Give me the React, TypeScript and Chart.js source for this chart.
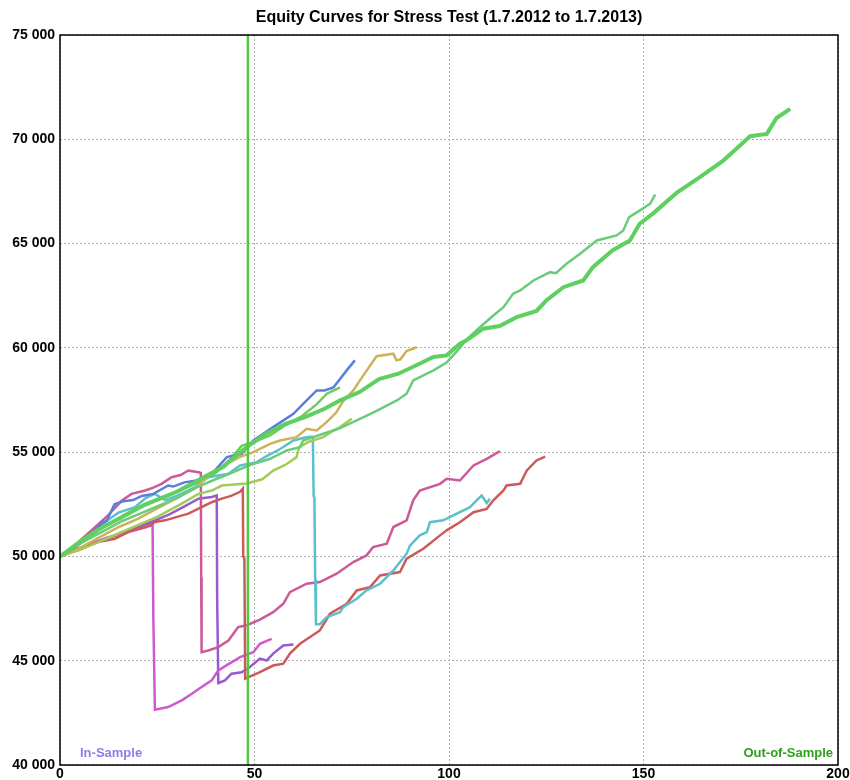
import React, { useEffect, useRef } from "react";
import { Chart, registerables } from "chart.js";

Chart.register(...registerables);

const TITLE = "Equity Curves for Stress Test (1.7.2012 to 1.7.2013)";
const X_TICKS = [0, 50, 100, 150, 200];
const Y_TICKS = [40000, 45000, 50000, 55000, 60000, 65000, 70000, 75000];

// Split between in-sample / out-of-sample
const splitX = [48.3, 48.3];
const splitY = [40000, 75000];

// Thick green (main)
const mainX = [0, 3, 6, 10, 14, 18, 22, 26, 30, 34, 38, 42, 45, 48.8, 53, 58, 63, 68, 72, 77, 82, 87, 92, 96, 99.4, 102.8, 104.5, 108.8, 113, 117.4, 122.5, 125, 129.4, 134.5, 137, 142, 146.5, 149, 152.5, 158.5, 164.5, 170.5, 174.8, 177.4, 181.7, 184.2, 187.7];
const mainY = [50000, 50400, 50800, 51300, 51700, 52100, 52500, 52800, 53100, 53500, 53900, 54300, 54800, 55350, 55880, 56360, 56680, 57080, 57480, 57880, 58500, 58760, 59200, 59560, 59640, 60200, 60360, 60920, 61050, 61470, 61770, 62270, 62910, 63230, 63870, 64670, 65150, 65950, 66450, 67430, 68190, 68980, 69700, 70150, 70260, 71020, 71460];

// Thin green
const greenX = [0, 4, 8, 12, 16, 20, 25, 30, 35, 40, 44, 48.8, 54, 58.3, 61.7, 62.5, 67.7, 72, 76, 80.5, 86.6, 89.1, 90.8, 96, 99.4, 102.8, 104.5, 108, 111.4, 114, 116.5, 118.3, 121.7, 126, 127.5, 130.2, 133.7, 138, 143.1, 144.8, 146.3, 149.1, 151.7, 153];
const greenY = [50000, 50500, 50900, 51300, 51700, 52000, 52400, 52800, 53300, 53700, 54000, 54380, 54680, 55080, 55240, 55560, 55880, 56150, 56500, 56900, 57480, 57800, 58440, 58920, 59300, 60000, 60400, 61000, 61550, 61950, 62600, 62750, 63230, 63630, 63580, 64030, 64510, 65150, 65390, 65630, 66270, 66590, 66910, 67350];

// Blue
const blueX = [0, 2.6, 5, 7.7, 10.7, 12, 14, 16.3, 18.8, 21, 24, 27.8, 29.1, 32, 35.1, 39, 42.9, 46.7, 49.7, 54.8, 60, 63.4, 66, 68, 70.3, 73.7, 75.8];
const blueY = [50000, 50290, 50600, 51000, 51600, 51700, 52500, 52650, 52700, 52900, 53000, 53400, 53350, 53550, 53640, 53960, 54760, 54920, 55560, 56200, 56840, 57480, 57960, 57960, 58100, 58920, 59400];

// Tan
const tanX = [0, 5, 10, 15, 20, 25, 30, 35, 37.7, 42.9, 46, 49.7, 54, 56.6, 60.8, 63.4, 66, 68.6, 71, 72.8, 75.4, 77.1, 79.7, 81.4, 85.7, 86.5, 87.5, 89.1, 91.7];
const tanY = [50000, 50400, 50900, 51400, 51800, 52300, 52800, 53300, 53800, 54440, 54750, 55000, 55400, 55560, 55720, 56120, 56040, 56450, 56900, 57450, 57960, 58440, 59150, 59600, 59720, 59400, 59450, 59850, 60030];

// Yellow-green
const limeX = [0, 5, 10, 15, 20, 25, 31.3, 35.6, 39, 41.6, 48, 52, 54.8, 58, 60.8, 61.5, 64, 67.7, 70, 72, 75];
const limeY = [50000, 50300, 50700, 51100, 51500, 51900, 52530, 53000, 53160, 53400, 53500, 53700, 54120, 54400, 54760, 55240, 55500, 55720, 56000, 56200, 56600];

// Second green (short)
const green2X = [0, 4, 8, 12, 16, 20, 25, 30, 35, 40, 44, 46.7, 50, 54, 58, 62, 66, 68.6, 72];
const green2Y = [50000, 50600, 51100, 51500, 51900, 52300, 52700, 53100, 53500, 54000, 54700, 55300, 55500, 55800, 56300, 56700, 57300, 57800, 58100];

// Cyan
const cyanX = [0, 4, 8, 12, 15, 19.3, 22, 24.4, 27, 30, 34.7, 38.1, 43.3, 46.3, 50.6, 53, 56.6, 60, 63, 64.8, 65.0, 65.2, 65.4, 65.6, 65.8, 66.8, 68.6, 72, 72.8, 76.3, 78.8, 82.3, 85.7, 89.1, 90, 92.5, 94.3, 95.1, 98.5, 101.1, 105.4, 107.1, 108.4, 109.7, 110.5];
const cyanY = [50000, 50500, 51100, 51700, 52100, 52360, 52800, 53000, 52700, 52900, 53320, 53800, 53960, 54360, 54520, 54800, 55150, 55560, 55700, 55750, 55700, 52900, 52800, 48900, 46750, 46750, 47090, 47330, 47570, 47970, 48370, 48690, 49330, 50130, 50530, 51010, 51170, 51640, 51730, 51970, 52360, 52690, 52920, 52560, 52770];

// Red
const redX = [0, 3.9, 9.8, 14.1, 18.4, 21.9, 24.4, 27, 33, 36.4, 39, 41.6, 44, 46.3, 47.0, 47.1, 47.4, 47.6, 51.4, 54.8, 57.4, 59.1, 61.7, 66.8, 69.4, 73.7, 76.3, 79.7, 82.3, 87.4, 89.1, 93.4, 97.7, 99.4, 102.8, 106.3, 109.7, 111.4, 114, 114.8, 118.3, 120, 122.5, 124.7];
const redY = [50000, 50290, 50690, 50850, 51250, 51410, 51650, 51730, 52050, 52360, 52600, 52770, 52900, 53100, 53250, 50000, 49900, 44140, 44450, 44770, 44860, 45340, 45810, 46450, 47250, 47730, 48370, 48530, 49090, 49250, 49890, 50370, 51010, 51250, 51640, 52120, 52280, 52690, 53160, 53400, 53480, 54120, 54600, 54790];

// Pink
const pinkX = [0, 3, 6, 9, 12, 14, 15.9, 18.4, 21.9, 24, 26.1, 28.7, 31, 33, 35.6, 36.2, 36.3, 36.4, 38.1, 40.7, 43.3, 45.8, 48, 51.4, 54.8, 57.4, 59.1, 63.4, 66.8, 71.1, 75.4, 78.8, 80.5, 84, 85.7, 89.1, 90.8, 92.5, 97.7, 99.4, 102.8, 106.3, 109.7, 113.1];
const pinkY = [50000, 50400, 50900, 51400, 51900, 52300, 52680, 53000, 53160, 53300, 53480, 53800, 53900, 54120, 54040, 54000, 49000, 45410, 45490, 45650, 45970, 46610, 46700, 46970, 47330, 47730, 48290, 48690, 48770, 49170, 49730, 50050, 50450, 50610, 51410, 51730, 52690, 53160, 53480, 53720, 53640, 54360, 54680, 55050];

// Magenta
const magentaX = [0, 4, 8, 12, 16, 19.3, 22, 23.8, 24.0, 24.4, 27.8, 31.3, 33.9, 36.4, 39, 40.7, 43, 46.3, 49.7, 51.4, 54.4];
const magentaY = [50000, 50300, 50600, 50900, 51100, 51250, 51400, 51500, 47000, 42650, 42780, 43100, 43420, 43740, 44060, 44530, 44800, 45170, 45410, 45810, 46050];

// Purple
const purpleX = [0, 3, 7.3, 11, 15.9, 20, 24.4, 28, 32, 35.6, 39, 40.3, 40.4, 40.7, 42.4, 44.1, 46.7, 48.8, 51.4, 53.1, 54.8, 57.4, 60];
const purpleY = [50000, 50300, 50530, 50800, 51090, 51400, 51730, 52000, 52400, 52770, 52850, 52920, 48000, 43930, 44060, 44380, 44450, 44700, 45100, 45010, 45340, 45730, 45780];

const fmt = (v: number) => String(v).replace(/\B(?=(\d{3})+(?!\d))/g, " ");
const pts = (xs: number[], ys: number[]) => xs.map((x, i) => ({ x, y: ys[i] }));
const FONT = "'Liberation Sans', Arial, sans-serif";

export default function App() {
  const ref = useRef<HTMLCanvasElement | null>(null);

  useEffect(() => {
    document.body.style.margin = "0";
    const canvas = ref.current;
    if (!canvas) return;

    const line = (label: string, xs: number[], ys: number[], color: string, width: number, order: number) => ({
      label,
      data: pts(xs, ys),
      borderColor: color,
      backgroundColor: color,
      borderWidth: width,
      pointRadius: 0,
      tension: 0,
      fill: false,
      order,
    });

    const framePlugin = {
      id: "frameAndLabels",
      afterDraw(chart: any) {
        const { ctx, chartArea } = chart;
        const { left, right, top, bottom } = chartArea;
        ctx.save();
        ctx.strokeStyle = "#000";
        ctx.lineWidth = 1.5;
        ctx.strokeRect(left, top, right - left, bottom - top);
        // title, centred over the plot area
        ctx.font = `bold 16px ${FONT}`;
        ctx.fillStyle = "#000";
        ctx.textAlign = "center";
        ctx.textBaseline = "middle";
        ctx.fillText(TITLE, (left + right) / 2, 18);
        // region labels
        ctx.font = `bold 13px ${FONT}`;
        ctx.textBaseline = "bottom";
        ctx.fillStyle = "#8a7de8";
        ctx.textAlign = "left";
        ctx.fillText("In-Sample", left + 20, bottom - 5);
        ctx.fillStyle = "#2e9e1e";
        ctx.textAlign = "right";
        ctx.fillText("Out-of-Sample", right - 5, bottom - 5);
        ctx.restore();
      },
    };

    const chart = new Chart(canvas, {
      type: "line",
      data: {
        datasets: [
          line("split", splitX, splitY, "#52c940", 2.5, 0),
          line("main", mainX, mainY, "#5fcf60", 4, 1),
          line("green", greenX, greenY, "#68cc7a", 2.5, 2),
          line("blue", blueX, blueY, "#5b7edc", 2.5, 3),
          line("tan", tanX, tanY, "#ccb25a", 2.5, 4),
          line("green2", green2X, green2Y, "#6ccc5c", 2.5, 5),
          line("lime", limeX, limeY, "#a2cc58", 2.5, 6),
          line("cyan", cyanX, cyanY, "#5cbfcc", 2.5, 7),
          line("red", redX, redY, "#cc5a5a", 2.5, 8),
          line("pink", pinkX, pinkY, "#cc5a99", 2.5, 9),
          line("magenta", magentaX, magentaY, "#cc5acc", 2.5, 10),
          line("purple", purpleX, purpleY, "#9a5acf", 2.5, 11),
        ],
      },
      options: {
        responsive: false,
        animation: false,
        layout: { padding: { left: 0, right: 12, top: 35, bottom: 0 } },
        plugins: {
          legend: { display: false },
          tooltip: { enabled: false },
          title: { display: false },
        },
        scales: {
          x: {
            type: "linear",
            min: X_TICKS[0],
            max: X_TICKS[X_TICKS.length - 1],
            afterBuildTicks: (scale: any) => {
              scale.ticks = X_TICKS.map((v) => ({ value: v }));
            },
            afterFit: (scale: any) => {
              scale.height = 15;
              scale.paddingLeft = 0;
              scale.paddingRight = 0;
            },
            ticks: {
              color: "#000",
              padding: 1,
              maxRotation: 0,
              autoSkip: false,
              font: { family: FONT, size: 14, weight: "bold" },
            },
            grid: { color: "#b0b0b0", lineWidth: 1, drawTicks: false },
            border: { display: false, dash: [2, 2] },
          },
          y: {
            type: "linear",
            min: Y_TICKS[0],
            max: Y_TICKS[Y_TICKS.length - 1],
            afterBuildTicks: (scale: any) => {
              scale.ticks = Y_TICKS.map((v) => ({ value: v }));
            },
            afterFit: (scale: any) => {
              scale.width = 60;
              scale.paddingTop = 0;
              scale.paddingBottom = 0;
            },
            ticks: {
              color: "#000",
              padding: 5,
              autoSkip: false,
              callback: (v: any) => fmt(Number(v)),
              font: { family: FONT, size: 14, weight: "bold" },
            },
            grid: { color: "#b0b0b0", lineWidth: 1, drawTicks: false },
            border: { display: false, dash: [2, 2] },
          },
        },
      },
      plugins: [framePlugin],
    } as any);

    return () => chart.destroy();
  }, []);

  return (
    <div style={{ width: 850, height: 780, background: "#fff" }}>
      <canvas ref={ref} width={850} height={780} />
    </div>
  );
}
